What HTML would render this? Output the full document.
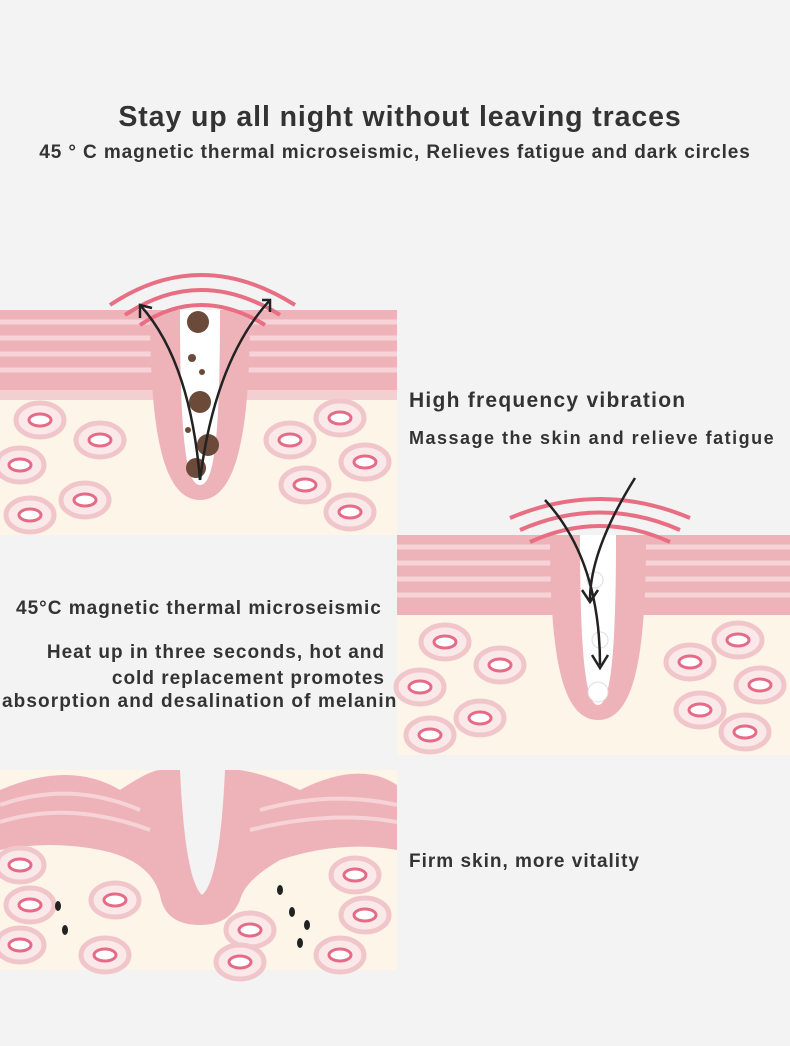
<!DOCTYPE html>
<html><head><meta charset="utf-8"><style>
html,body{margin:0;padding:0;background:#f3f3f3;}
body{width:790px;height:1046px;position:relative;overflow:hidden;font-family:"Liberation Sans",sans-serif;color:#333;}
.t{position:absolute;font-weight:bold;white-space:nowrap;}
svg{position:absolute;left:0;top:0;}
</style></head><body>
<svg width="790" height="1046" viewBox="0 0 790 1046">
<defs>
<g id="cell"><ellipse rx="24" ry="17" fill="#fbe9ea" stroke="#f0c6cb" stroke-width="5"/><ellipse rx="11" ry="6" fill="#fff" stroke="#e56b86" stroke-width="3"/></g>
</defs>
<g>
<rect x="0" y="310" width="397" height="225" fill="#fdf5e8"/>
<rect x="0" y="310" width="397" height="80" fill="#eeb3b9"/>
<g stroke="#f6d3d6" stroke-width="5"><line x1="0" y1="322" x2="397" y2="322"/><line x1="0" y1="338" x2="397" y2="338"/><line x1="0" y1="354" x2="397" y2="354"/><line x1="0" y1="370" x2="397" y2="370"/></g>
<rect x="0" y="390" width="397" height="10" fill="#f3cfd2"/>
<path d="M150 310 C150 420 160 500 200 500 C240 500 250 420 250 310 Z" fill="#eeb3b9"/>
<path d="M180 310 C180 430 185 485 200 485 C215 485 220 430 220 310 Z" fill="#fff"/>
<use href="#cell" x="40" y="420"/><use href="#cell" x="100" y="440"/><use href="#cell" x="20" y="465"/><use href="#cell" x="85" y="500"/><use href="#cell" x="30" y="515"/>
<use href="#cell" x="340" y="418"/><use href="#cell" x="290" y="440"/><use href="#cell" x="365" y="462"/><use href="#cell" x="305" y="485"/><use href="#cell" x="350" y="512"/>
<g fill="none" stroke="#e86f83" stroke-width="4"><path d="M110 305 Q200 245 295 305"/><path d="M125 315 Q200 265 280 315"/><path d="M140 325 Q200 285 265 325"/></g>
<g fill="#6b4a3a"><circle cx="198" cy="322" r="11"/><circle cx="200" cy="402" r="11"/><circle cx="208" cy="445" r="11"/><circle cx="196" cy="468" r="10"/><circle cx="192" cy="358" r="4"/><circle cx="202" cy="372" r="3"/><circle cx="188" cy="430" r="3"/></g>
<g fill="none" stroke="#222" stroke-width="2.5"><path d="M200 480 Q190 360 140 305"/><path d="M200 480 Q215 360 270 300"/><path d="M140 318 L140 305 L152 308"/><path d="M262 300 L270 300 L270 312"/></g>
</g>
<g>
<rect x="397" y="535" width="393" height="220" fill="#fdf5e8"/>
<rect x="397" y="535" width="393" height="80" fill="#eeb3b9"/>
<g stroke="#f6d3d6" stroke-width="5"><line x1="397" y1="547" x2="790" y2="547"/><line x1="397" y1="563" x2="790" y2="563"/><line x1="397" y1="579" x2="790" y2="579"/><line x1="397" y1="595" x2="790" y2="595"/></g>
<path d="M550 535 C550 650 560 720 598 720 C636 720 646 650 646 535 Z" fill="#eeb3b9"/>
<path d="M580 535 C580 650 585 705 598 705 C611 705 616 650 616 535 Z" fill="#fff"/>
<use href="#cell" x="445" y="642"/><use href="#cell" x="500" y="665"/><use href="#cell" x="420" y="687"/><use href="#cell" x="480" y="718"/><use href="#cell" x="430" y="735"/>
<use href="#cell" x="738" y="640"/><use href="#cell" x="690" y="662"/><use href="#cell" x="760" y="685"/><use href="#cell" x="700" y="710"/><use href="#cell" x="745" y="732"/>
<g fill="none" stroke="#e86f83" stroke-width="4"><path d="M510 518 Q600 480 690 518"/><path d="M520 530 Q600 495 680 530"/><path d="M530 542 Q600 510 670 542"/></g>
<g fill="#fff" stroke="#ddd"><circle cx="595" cy="580" r="8"/><circle cx="600" cy="640" r="8"/><circle cx="598" cy="692" r="10"/></g>
<g fill="none" stroke="#222" stroke-width="2.5"><path d="M545 500 Q600 560 600 665"/><path d="M635 478 Q590 550 590 600"/><path d="M592 655 L600 668 L608 655"/><path d="M582 590 L590 602 L598 590"/></g>
</g>
<g>
<rect x="0" y="770" width="397" height="200" fill="#fdf5e8"/>
<path d="M0 790 Q70 760 120 790 Q150 770 160 770 L240 770 Q270 775 300 790 Q360 760 397 785 L397 850 Q340 840 280 860 Q245 880 240 900 Q230 925 200 925 Q165 925 160 895 Q150 860 100 850 Q50 840 0 850 Z" fill="#eeb3b9"/>
<g fill="none" stroke="#f6d3d6" stroke-width="4"><path d="M0 805 Q70 780 140 810"/><path d="M0 822 Q70 800 150 830"/><path d="M260 810 Q330 790 397 805"/><path d="M250 830 Q330 810 397 822"/></g>
<path d="M180 770 L225 770 Q220 880 202 895 Q185 880 180 770 Z" fill="#f3f3f3"/>
<use href="#cell" x="20" y="865"/><use href="#cell" x="30" y="905"/><use href="#cell" x="115" y="900"/><use href="#cell" x="20" y="945"/><use href="#cell" x="105" y="955"/>
<use href="#cell" x="355" y="875"/><use href="#cell" x="365" y="915"/><use href="#cell" x="250" y="930"/><use href="#cell" x="340" y="955"/><use href="#cell" x="240" y="962"/>
<g fill="#222"><ellipse cx="58" cy="906" rx="3" ry="5"/><ellipse cx="65" cy="930" rx="3" ry="5"/><ellipse cx="280" cy="890" rx="3" ry="5"/><ellipse cx="292" cy="912" rx="3" ry="5"/><ellipse cx="307" cy="925" rx="3" ry="5"/><ellipse cx="300" cy="943" rx="3" ry="5"/></g>
</g>
</svg>
<div class="t" style="left:0;width:800px;text-align:center;top:101px;font-size:28.5px;letter-spacing:0.9px;">Stay up all night without leaving traces</div>
<div class="t" style="left:0;width:790px;text-align:center;top:142px;font-size:19px;letter-spacing:0.9px;">45 ° C magnetic thermal microseismic, Relieves fatigue and dark circles</div>
<div class="t" style="left:409px;top:389px;font-size:21px;letter-spacing:1.25px;">High frequency vibration</div>
<div class="t" style="left:409px;top:428px;font-size:18px;letter-spacing:1.5px;">Massage the skin and relieve fatigue</div>
<div class="t" style="left:16px;top:598px;font-size:19px;letter-spacing:1px;">45°C magnetic thermal microseismic</div>
<div class="t" style="right:405px;top:640px;font-size:19px;text-align:right;line-height:25.5px;letter-spacing:1px;">Heat up in three seconds, hot and<br>cold replacement promotes</div>
<div class="t" style="left:2px;top:691px;font-size:19px;letter-spacing:1.1px;">absorption and desalination of melanin</div>
<div class="t" style="left:409px;top:851px;font-size:19px;letter-spacing:1px;">Firm skin, more vitality</div>
</body></html>
